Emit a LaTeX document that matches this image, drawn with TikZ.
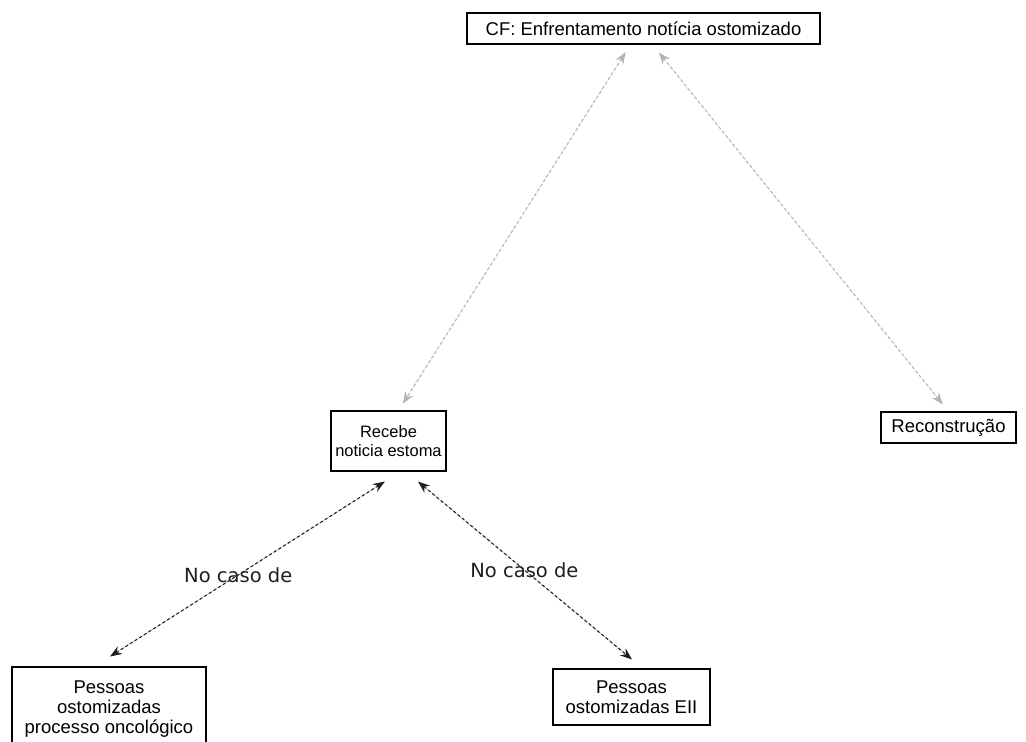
\documentclass[tikz,border=0pt]{standalone}
\usepackage{fontspec}
\usepackage{xcolor}
\usepackage{tikz}
\setmainfont{Liberation Sans}
\newfontfamily\labelfont{DejaVu Sans}
\usetikzlibrary{arrows.meta}

\definecolor{lightarrow}{HTML}{B4B4B4}
\definecolor{darkarrow}{HTML}{1E1E1E}

\tikzset{
    box/.style={draw, line width=1.1pt, inner sep=0pt, align=center,
        font=\fontsize{18.5}{22}\selectfont},
    softlink/.style={{Stealth[length=12pt,width=9pt]}-{Stealth[length=12pt,width=9pt]},
        draw=lightarrow, fill=lightarrow, line width=1.1pt, dash pattern=on 3pt off 2.5pt},
    hardlink/.style={{Stealth[length=12pt,width=9pt]}-{Stealth[length=12pt,width=9pt]},
        draw=darkarrow, fill=darkarrow, line width=1.1pt, dash pattern=on 3pt off 2.5pt},
    caselabel/.style={font=\labelfont\fontsize{19.5}{23}\selectfont, text=darkarrow}
}

\begin{document}
\begin{tikzpicture}[x=1pt, y=-1pt]
        \useasboundingbox (0,0) rectangle (1026,742);

        \node[box, minimum width=353pt, minimum height=31pt] (cf) at (643.5,28.5) {CF: Enfrentamento notícia ostomizado};
        \node[box, minimum width=115pt, minimum height=60pt, font=\fontsize{16.5}{20}\selectfont] (recebe) at (388.5,441) {\shortstack{Recebe\\[4pt]noticia estoma}};
        \node[box, minimum width=135pt, minimum height=31pt] (recon) at (948.5,427.5) {Reconstrução};
        \node[box, minimum width=194pt, minimum height=84pt] (onco) at (109,709) {\shortstack{Pessoas\\[3.5pt]ostomizadas\\[3.5pt]processo oncológico}};
        \node[box, minimum width=157pt, minimum height=56pt] (eii) at (631.5,697) {\shortstack{Pessoas\\[3.5pt]ostomizadas EII}};

        \draw[softlink, shorten <=9pt, shorten >=8pt] ([xshift=-13pt]cf.south) -- ([xshift=10pt]recebe.north);
        \draw[softlink, shorten <=10pt, shorten >=9pt] ([xshift=9pt]cf.south) -- (recon.north);
        \draw[hardlink, shorten <=18.5pt, shorten >=18.5pt] ([xshift=12pt]recebe.south) -- node[caselabel, pos=0.53] {No caso de} ([xshift=-14.6pt]onco.north);
        \draw[hardlink, shorten <=15.6pt, shorten >=14pt] ([xshift=17.5pt]recebe.south) -- node[caselabel, pos=0.5] {No caso de} ([xshift=11.3pt]eii.north);
    \end{tikzpicture}
\end{document}
